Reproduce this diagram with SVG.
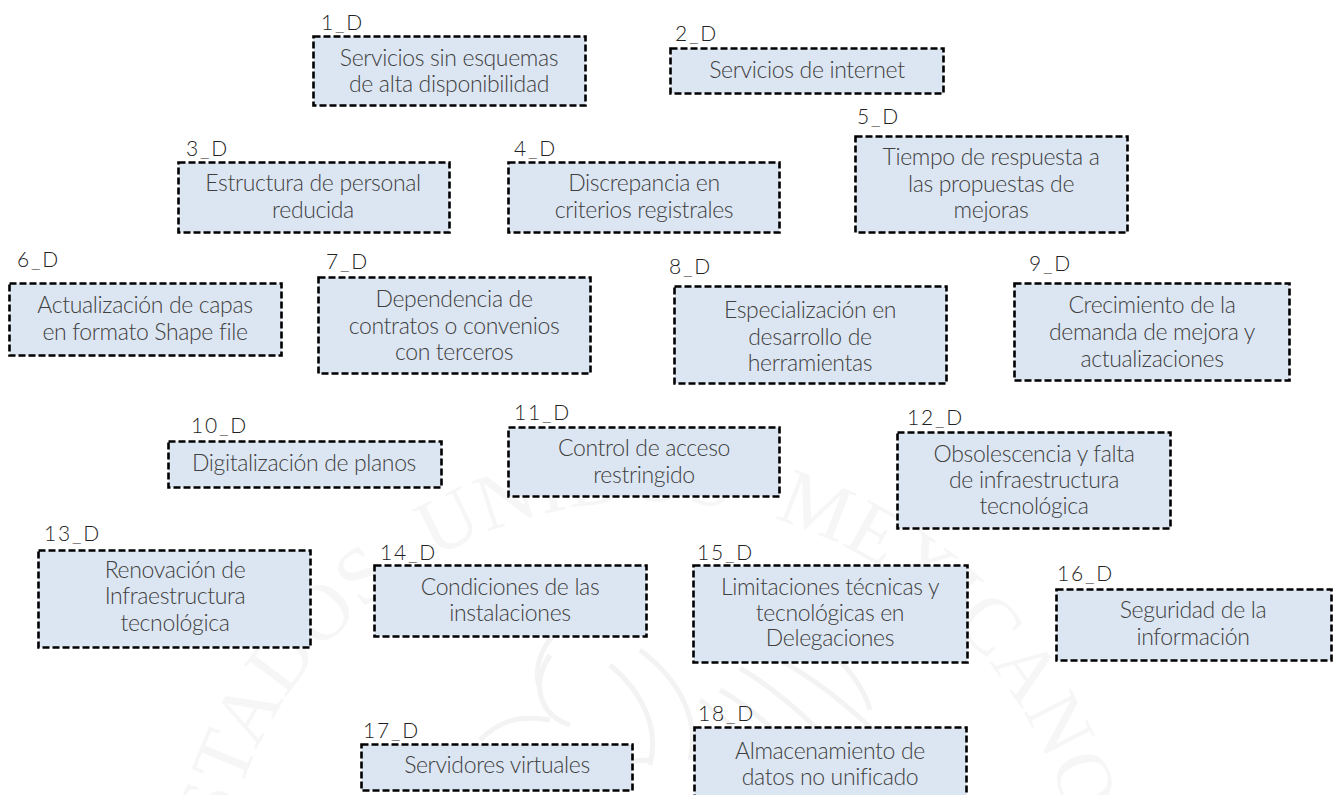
<svg xmlns="http://www.w3.org/2000/svg" width="1334" height="795" viewBox="0 0 1334 795">
<style>
.b{fill:#dce6f2;stroke:#000;stroke-width:2.6;stroke-dasharray:7 3}
text{font-family:"Lato","Noto Sans",sans-serif;font-weight:300;fill:#404040}
.t{font-size:23px;text-anchor:middle;letter-spacing:-.35px}
.l{font-size:21px;fill:#222;letter-spacing:1.8px}
.w{font-family:"Liberation Serif",serif;font-size:80px;fill:#f6f6f6;font-weight:400;letter-spacing:1px;word-spacing:22px}
</style>
<defs><path id="arc" d="M215 936A435 435 0 0 1 1085 936L1085 1100"/></defs>
<rect width="1334" height="795" fill="#fff"/>
<g id="watermark" fill="none" stroke="#f3f3f3" stroke-width="5">
<text class="w" stroke="none"><textPath href="#arc" startOffset="53">ESTADOS UNIDOS MEXICANOS</textPath></text>
<path d="M740 668c50 30 100 80 135 127M720 690c45 25 80 65 110 105M770 655c60 30 120 85 160 140M700 700c35 25 65 60 85 95M640 650c40 30 60 70 50 110M610 665c30 25 50 60 40 100M540 690c-10-30 10-60 40-75M570 725c-30-10-40-40-20-70M460 780c30-20 70-30 110-25M480 740c20-20 40-25 70-20M590 790c10-20 30-30 60-30M830 650c20 20 35 40 40 60"/>
</g>
<g id="n1"><rect class="b" x="313.500" y="36.500" width="272" height="69"/><text class="l" x="321" y="30">1_D</text><text class="t" x="449" y="66">Servicios sin esquemas</text><text class="t" x="449" y="92">de alta disponibilidad</text></g>
<g id="n2"><rect class="b" x="670.500" y="48.500" width="273" height="45"/><text class="l" x="675" y="41">2_D</text><text class="t" x="807" y="78">Servicios de internet</text></g>
<g id="n3"><rect class="b" x="178.500" y="162.500" width="271" height="70"/><text class="l" x="186" y="156">3_D</text><text class="t" x="313" y="191">Estructura de personal</text><text class="t" x="313" y="218">reducida</text></g>
<g id="n4"><rect class="b" x="508.500" y="162.500" width="271" height="70"/><text class="l" x="514" y="156">4_D</text><text class="t" x="644" y="191">Discrepancia en</text><text class="t" x="644" y="218">criterios registrales</text></g>
<g id="n5"><rect class="b" x="855.500" y="136.500" width="272" height="96"/><text class="l" x="857" y="124">5_D</text><text class="t" x="991" y="165">Tiempo de respuesta a</text><text class="t" x="991" y="192">las propuestas de</text><text class="t" x="991" y="218">mejoras</text></g>
<g id="n6"><rect class="b" x="9.500" y="283.500" width="272" height="72"/><text class="l" x="17" y="267">6_D</text><text class="t" x="145" y="313">Actualización de  capas</text><text class="t" x="145" y="340">en formato Shape file</text></g>
<g id="n7"><rect class="b" x="318.500" y="277.500" width="272" height="96"/><text class="l" x="326" y="269">7_D</text><text class="t" x="454" y="307">Dependencia de</text><text class="t" x="454" y="334">contratos o convenios</text><text class="t" x="454" y="360">con terceros</text></g>
<g id="n8"><rect class="b" x="674.500" y="286.500" width="272" height="97"/><text class="l" x="669" y="274">8_D</text><text class="t" x="810" y="318">Especialización en</text><text class="t" x="810" y="345">desarrollo de</text><text class="t" x="810" y="371">herramientas</text></g>
<g id="n9"><rect class="b" x="1014.500" y="283.500" width="275" height="97"/><text class="l" x="1029" y="271">9_D</text><text class="t" x="1152" y="313">Crecimiento de la</text><text class="t" x="1152" y="340">demanda de mejora y</text><text class="t" x="1152" y="367">actualizaciones</text></g>
<g id="n10"><rect class="b" x="168.500" y="441.500" width="273" height="46"/><text class="l" x="191" y="433">10_D</text><text class="t" x="304" y="471">Digitalización de planos</text></g>
<g id="n11"><rect class="b" x="508.500" y="427.500" width="271" height="69"/><text class="l" x="514" y="420">11_D</text><text class="t" x="644" y="456">Control de acceso</text><text class="t" x="644" y="483">restringido</text></g>
<g id="n12"><rect class="b" x="897.500" y="432.500" width="273" height="96"/><text class="l" x="907" y="425">12_D</text><text class="t" x="1034" y="462">Obsolescencia y falta</text><text class="t" x="1034" y="488">de infraestructura</text><text class="t" x="1034" y="514">tecnológica</text></g>
<g id="n13"><rect class="b" x="38.500" y="550.500" width="272" height="97"/><text class="l" x="44" y="541">13_D</text><text class="t" x="175" y="578">Renovación de</text><text class="t" x="175" y="604">Infraestructura</text><text class="t" x="175" y="631">tecnológica</text></g>
<g id="n14"><rect class="b" x="374.500" y="565.500" width="272" height="71"/><text class="l" x="380" y="560">14_D</text><text class="t" x="510" y="595">Condiciones de las</text><text class="t" x="510" y="621">instalaciones</text></g>
<g id="n15"><rect class="b" x="693.500" y="565.500" width="274" height="97"/><text class="l" x="697" y="560">15_D</text><text class="t" x="830" y="595">Limitaciones técnicas y</text><text class="t" x="830" y="621">tecnológicas en</text><text class="t" x="830" y="646">Delegaciones</text></g>
<g id="n16"><rect class="b" x="1056.500" y="589.500" width="275" height="71"/><text class="l" x="1057" y="581">16_D</text><text class="t" x="1193" y="618">Seguridad de la</text><text class="t" x="1193" y="645">información</text></g>
<g id="n17"><rect class="b" x="361.500" y="744.500" width="271" height="46"/><text class="l" x="363" y="738">17_D</text><text class="t" x="497" y="773">Servidores virtuales</text></g>
<g id="n18"><rect class="b" x="694.500" y="727.500" width="272" height="80"/><text class="l" x="698" y="721">18_D</text><text class="t" x="830" y="759">Almacenamiento de</text><text class="t" x="830" y="785">datos no unificado</text></g>
<g id="connectors"></g>
</svg>
